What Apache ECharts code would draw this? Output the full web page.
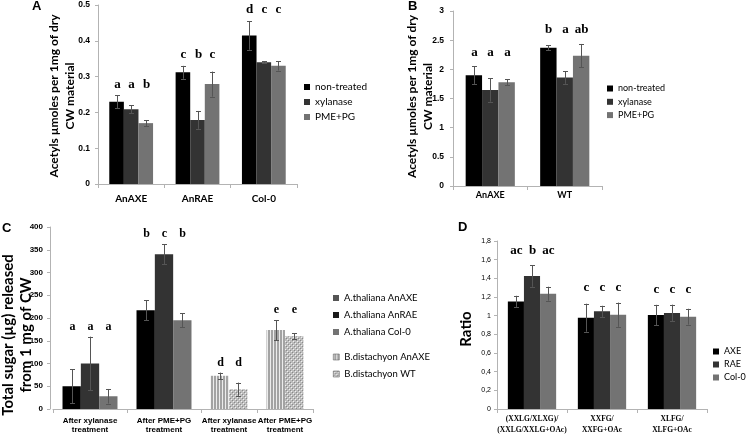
<!DOCTYPE html>
<html><head><meta charset="utf-8">
<script src="https://cdn.jsdelivr.net/npm/echarts@6/dist/echarts.min.js"></script>
<style>html,body{margin:0;padding:0;background:#fff}#c{width:751px;height:438px}</style>
</head><body><div id="c"></div>
<script>
// ---------- Panel A ----------
const catsA = ['AnAXE', 'AnRAE', 'Col-0'];
const namesA = ['non-treated', 'xylanase', 'PME+PG'];
const nonTreatedA = [0.23, 0.312, 0.415];
const xylanaseA = [0.209, 0.179, 0.34];
const pmePgA = [0.17, 0.279, 0.33];
const errNonTreatedA = [0.018, 0.018, 0.04];
const errXylanaseA = [0.011, 0.025, 0.003];
const errPmePgA = [0.008, 0.035, 0.013];
const lettersA = [['a', 'a', 'b'], ['c', 'b', 'c'], ['d', 'c', 'c']];
const yTicksA = [0, 0.1, 0.2, 0.3, 0.4, 0.5];
const yTitleA = 'Acetyls µmoles per 1mg of dry\nCW material';

// ---------- Panel B ----------
const catsB = ['AnAXE', 'WT'];
const namesB = ['non-treated', 'xylanase', 'PME+PG'];
const nonTreatedB = [1.9, 2.37];
const xylanaseB = [1.645, 1.86];
const pmePgB = [1.78, 2.235];
const errNonTreatedB = [0.15, 0.04];
const errXylanaseB = [0.2, 0.11];
const errPmePgB = [0.05, 0.2];
const lettersB = [['a', 'a', 'a'], ['b', 'a', 'ab']];
const yTicksB = [0, 0.5, 1, 1.5, 2, 2.5, 3];
const yTitleB = 'Acetyls µmoles per 1mg of dry\nCW material';

// ---------- Panel C ----------
const catsCThaliana = ['After xylanase\ntreatment', 'After PME+PG\ntreatment'];
const catsCDistachyon = ['After xylanase\ntreatment', 'After PME+PG\ntreatment'];
const namesCThaliana = ['A.thaliana AnAXE', 'A.thaliana AnRAE', 'A.thaliana Col-0'];
const namesCDistachyon = ['B.distachyon AnAXE', 'B.distachyon WT'];
const thalianaAnAXE = [50, 217];
const thalianaAnRAE = [100, 340];
const thalianaCol0 = [28, 195];
const distachyonAnAXE = [73, 173.5];
const distachyonWT = [43.5, 160];
const errThalianaAnAXE = [37, 22];
const errThalianaAnRAE = [59, 22];
const errThalianaCol0 = [16, 15];
const errDistachyonAnAXE = [7, 22];
const errDistachyonWT = [14.5, 6];
const lettersCThaliana = [['a', 'a', 'a'], ['b', 'c', 'b']];
const lettersCDistachyon = [['d', 'd'], ['e', 'e']];
const yTicksC = [0, 50, 100, 150, 200, 250, 300, 350, 400];
const yTitleC = 'Total sugar (µg) released\nfrom 1 mg of CW';

// ---------- Panel D ----------
const catsD = ['(XXLG/XLXG)/\n(XXLG/XXLG+OAc)', 'XXFG/\nXXFG+OAc', 'XLFG/\nXLFG+OAc'];
const namesD = ['AXE', 'RAE', 'Col-0'];
const axeD = [1.153, 0.978, 1.006];
const raeD = [1.424, 1.046, 1.028];
const col0D = [1.235, 1.01, 0.989];
const errAxeD = [0.06, 0.15, 0.11];
const errRaeD = [0.115, 0.06, 0.09];
const errCol0D = [0.075, 0.13, 0.085];
const lettersD = [['ac', 'b', 'ac'], ['c', 'c', 'c'], ['c', 'c', 'c']];
const yTicksD = [0, 0.2, 0.4, 0.6, 0.8, 1, 1.2, 1.4, 1.6, 1.8];
const yTickLabelsD = ['0', '0,2', '0,4', '0,6', '0,8', '1', '1,2', '1,4', '1,6', '1,8'];
const yTitleD = 'Ratio';

// ---------- styles ----------
const BLACK = '#000000', DARK = '#333333', GRAY = '#737373';
const AXIS = '#b3b3b3';
const ERR = '#555555';
function makeStripes() {
  const c = document.createElement('canvas'); c.width = 3; c.height = 4;
  const g = c.getContext('2d');
  g.fillStyle = '#a3a3a3'; g.fillRect(0, 0, 3, 4);
  g.fillStyle = '#ececec'; g.fillRect(0, 0, 1, 4);
  return c;
}
function makeDots() {
  const c = document.createElement('canvas'); c.width = 4; c.height = 4;
  const g = c.getContext('2d');
  g.fillStyle = '#bdbdbd'; g.fillRect(0, 0, 4, 4);
  g.fillStyle = '#f0f0f0'; g.fillRect(1, 1, 1, 1); g.fillRect(3, 3, 1, 1);
  g.fillStyle = '#8a8a8a'; g.fillRect(0, 0, 1, 1); g.fillRect(2, 2, 1, 1);
  return c;
}
const STRIPES = { image: makeStripes(), repeat: 'repeat' };
const DOTS = { image: makeDots(), repeat: 'repeat' };

const option = {
  animation: false,
  backgroundColor: '#ffffff',
  grid: [], xAxis: [], yAxis: [], series: [], legend: [], title: [], graphic: []
};

function addPanel(cfg) {
  const gi = option.grid.length;
  option.grid.push(Object.assign({ containLabel: false }, cfg.grid));
  option.xAxis.push({
    type: 'category', gridIndex: gi, data: cfg.cats,
    axisLine: { show: true, lineStyle: { color: AXIS, width: 1 } },
    axisTick: { show: true, length: 4, lineStyle: { color: AXIS } },
    axisLabel: Object.assign({ interval: 0, color: '#000', hideOverlap: false }, cfg.xLabel)
  });
  const ticks = cfg.yTicks;
  option.yAxis.push(Object.assign({
    type: 'value', gridIndex: gi,
    min: ticks[0], max: ticks[ticks.length - 1], interval: ticks[1] - ticks[0],
    show: cfg.showY !== false,
    splitLine: { show: false },
    axisLine: { show: true, lineStyle: { color: AXIS } },
    axisTick: { show: true, length: 3, lineStyle: { color: AXIS } },
    axisLabel: Object.assign({ color: '#000' }, cfg.yLabel)
  }, cfg.yAxisExtra || {}));
  const xi = option.xAxis.length - 1, yi = option.yAxis.length - 1;
  const n = cfg.values.length;
  cfg.values.forEach((vals, i) => {
    option.series.push({
      type: 'bar', name: cfg.names[i], xAxisIndex: xi, yAxisIndex: yi, data: vals,
      barGap: '0%', barCategoryGap: cfg.gap + '%',
      itemStyle: { color: cfg.colors[i] },
      emphasis: { disabled: true }, silent: true
    });
  });
  const data = cfg.cats.map((c, k) => [k, Math.max.apply(null, cfg.values.map((v, i) => v[k] + cfg.errors[i][k]))]);
  option.series.push({
    type: 'custom', xAxisIndex: xi, yAxisIndex: yi, data: data, z: 10, silent: true,
    renderItem: function (params, api) {
      const k = api.value(0);
      const band = api.size([1, 0])[0];
      const total = band * (1 - cfg.gap / 100);
      const bw = total / n;
      const c0 = api.coord([k, 0]);
      const children = [];
      const yLetter = api.coord([k, api.value(1)])[1] - cfg.letterOffset;
      for (let i = 0; i < n; i++) {
        const x = Math.round(c0[0] - total / 2 + bw * (i + 0.5)) + 0.5;
        const v = cfg.values[i][k], e = cfg.errors[i][k];
        const yh = api.coord([k, v + e])[1], yl = api.coord([k, v - e])[1];
        const cw = 2.5;
        children.push({ type: 'line', shape: { x1: x, y1: yh, x2: x, y2: yl }, style: { stroke: ERR, lineWidth: 1 } });
        children.push({ type: 'line', shape: { x1: x - cw, y1: Math.round(yh) + 0.5, x2: x + cw, y2: Math.round(yh) + 0.5 }, style: { stroke: ERR, lineWidth: 1 } });
        children.push({ type: 'line', shape: { x1: x - cw, y1: Math.round(yl) + 0.5, x2: x + cw, y2: Math.round(yl) + 0.5 }, style: { stroke: ERR, lineWidth: 1 } });
        children.push({
          type: 'text',
          style: {
            text: cfg.letters[k][i], x: x, y: yLetter, align: 'center', verticalAlign: 'middle',
            fontFamily: 'Liberation Serif', fontWeight: 'bold', fontSize: cfg.letterSize, fill: '#000'
          }
        });
      }
      return { type: 'group', children: children };
    }
  });
}

// Panel A
addPanel({
  grid: { left: 98, top: 5, width: 199, height: 179 },
  cats: catsA, names: namesA,
  values: [nonTreatedA, xylanaseA, pmePgA],
  errors: [errNonTreatedA, errXylanaseA, errPmePgA],
  letters: lettersA, colors: [BLACK, DARK, GRAY], gap: 34,
  yTicks: yTicksA, letterOffset: 11, letterSize: 13,
  xLabel: { fontFamily: 'Lato', fontWeight: 'bold', fontSize: 10, margin: 10 },
  yLabel: { fontFamily: 'Liberation Sans', fontWeight: 'bold', fontSize: 8.5, margin: 8 }
});
// Panel B
addPanel({
  grid: { left: 453, top: 11, width: 149, height: 175 },
  cats: catsB, names: namesB,
  values: [nonTreatedB, xylanaseB, pmePgB],
  errors: [errNonTreatedB, errXylanaseB, errPmePgB],
  letters: lettersB, colors: [BLACK, DARK, GRAY], gap: 34,
  yTicks: yTicksB, letterOffset: 14, letterSize: 13,
  xLabel: { fontFamily: 'Lato', fontWeight: 'bold', fontSize: 9, margin: 5 },
  yLabel: { fontFamily: 'Liberation Sans', fontWeight: 'bold', fontSize: 8.5, margin: 9 }
});
// Panel C (A. thaliana part)
addPanel({
  grid: { left: 53, top: 227, width: 148, height: 182 },
  cats: catsCThaliana, names: namesCThaliana,
  values: [thalianaAnAXE, thalianaAnRAE, thalianaCol0],
  errors: [errThalianaAnAXE, errThalianaAnRAE, errThalianaCol0],
  letters: lettersCThaliana, colors: [BLACK, DARK, GRAY], gap: 25.7,
  yTicks: yTicksC, letterOffset: 10, letterSize: 12,
  xLabel: { fontFamily: 'Liberation Sans', fontWeight: 'bold', fontSize: 8, lineHeight: 9.5, margin: 7 },
  yLabel: { fontFamily: 'Liberation Sans', fontWeight: 'bold', fontSize: 8, margin: 7 },
  yAxisExtra: { offset: 3 }
});
// Panel C (B. distachyon part)
addPanel({
  grid: { left: 201, top: 227, width: 112, height: 182 },
  cats: catsCDistachyon, names: namesCDistachyon,
  values: [distachyonAnAXE, distachyonWT],
  errors: [errDistachyonAnAXE, errDistachyonWT],
  letters: lettersCDistachyon, colors: [STRIPES, DOTS], gap: 34,
  yTicks: yTicksC, letterOffset: 10, letterSize: 12, showY: false,
  xLabel: { fontFamily: 'Liberation Sans', fontWeight: 'bold', fontSize: 8, lineHeight: 9.5, margin: 7 },
  yLabel: {}
});
// Panel D
addPanel({
  grid: { left: 497, top: 241, width: 210, height: 168 },
  cats: catsD, names: namesD,
  values: [axeD, raeD, col0D],
  errors: [errAxeD, errRaeD, errCol0D],
  letters: lettersD, colors: [BLACK, DARK, GRAY], gap: 31,
  yTicks: yTicksD, letterOffset: 15, letterSize: 13,
  xLabel: { fontFamily: 'Liberation Serif', fontWeight: 'bold', fontSize: 7.5, lineHeight: 11, margin: 5 },
  yLabel: { fontFamily: 'Liberation Sans', fontSize: 7, margin: 6, formatter: v => yTickLabelsD[Math.round(v / (yTicksD[1] - yTicksD[0]))] }
});

// Axis titles (rotated text)
function yTitle(text, cx, cy, size, lh) {
  option.graphic.push({
    type: 'text', x: cx, y: cy, rotation: Math.PI / 2, silent: true,
    style: { text: text, align: 'center', verticalAlign: 'middle', fontFamily: 'Lato', fontWeight: 'bold', fontSize: size, lineHeight: lh, fill: '#000' }
  });
}
yTitle(yTitleA, 62, 96, 12, 16);
yTitle(yTitleB, 420, 96.5, 12, 16.5);
yTitle(yTitleC, 17, 335, 15, 18);
yTitle(yTitleD, 466, 329, 15, 18);

const legendBase = (left, top, size, lh, gap) => ({
  orient: 'vertical', left: left, top: top, itemWidth: 6, itemHeight: 6, itemGap: gap, padding: 0,
  icon: 'rect', selectedMode: false,
  textStyle: { fontFamily: 'Lato', fontSize: size, lineHeight: lh, color: '#000' },
  itemStyle: { borderWidth: 0 }
});
option.legend.push(Object.assign(legendBase(304, 81, 10, 12, 3), { data: namesA }));
option.legend.push(Object.assign(legendBase(607, 83, 9, 11, 2.3), { data: namesB }));
option.legend.push(Object.assign(legendBase(333, 292, 9.5, 12, 5), {
  data: [
    { name: namesCThaliana[0], itemStyle: { color: '#555555' } },
    { name: namesCThaliana[1], itemStyle: { color: '#1a1a1a' } },
    { name: namesCThaliana[2], itemStyle: { color: '#737373' } }
  ]
}));
option.legend.push(Object.assign(legendBase(333, 351, 9.5, 12, 5), {
  data: namesCDistachyon,
  itemStyle: { borderWidth: 0.6, borderColor: '#666' }
}));
option.legend.push(Object.assign(legendBase(713, 346, 9, 11, 2), { data: namesD }));

const panelTitle = (t, left, top) => ({ text: t, left: left, top: top, padding: 0, textStyle: { fontFamily: 'Liberation Sans', fontWeight: 'bold', fontSize: 13, color: '#000' } });
option.title.push(panelTitle('A', 32, 0), panelTitle('B', 408, 0), panelTitle('C', 2, 222), panelTitle('D', 458, 221));

const chart = echarts.init(document.getElementById('c'), null, { renderer: 'canvas', width: 751, height: 438 });
chart.setOption(option);
</script>
</body></html>
